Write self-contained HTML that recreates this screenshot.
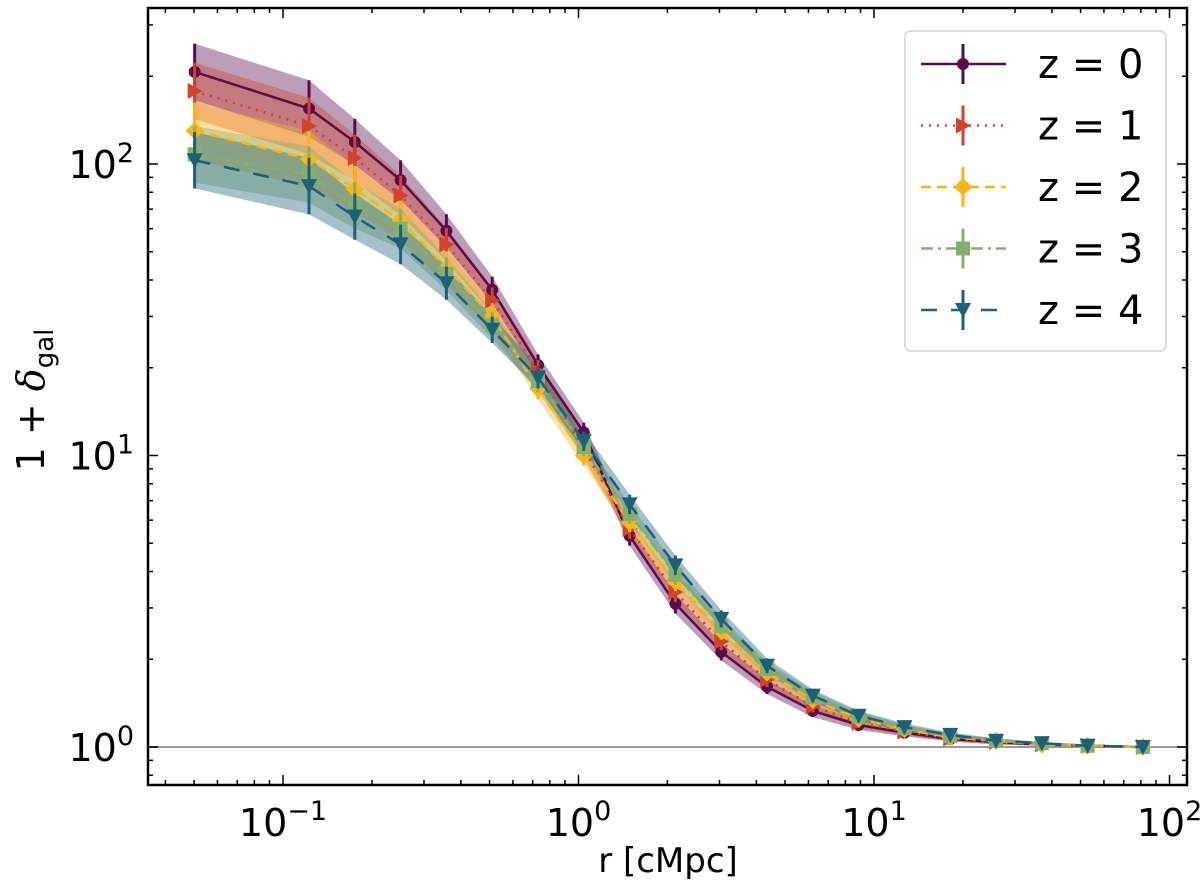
<!DOCTYPE html>
<html><head><meta charset="utf-8"><style>
body{margin:0;background:#fff;}
svg{display:block;font-family:"DejaVu Sans","Liberation Sans",sans-serif;}
</style></head><body>
<svg id="chart" width="1200" height="889" viewBox="0 0 1200 889" xmlns="http://www.w3.org/2000/svg">
<g id="bands"></g>
<line x1="148" x2="1187" y1="747" y2="747" stroke="#999" stroke-width="2"/>
<g id="series"></g>
<g id="axes"></g>
<text x="668" y="872" font-size="34" text-anchor="middle">r [cMpc]</text>
<text transform="translate(44,400) rotate(-90)" font-size="38" text-anchor="middle">1 + <tspan font-style="italic" font-family="DejaVu Serif,serif">δ</tspan><tspan font-size="26" dy="9">gal</tspan></text>
<g id="legend"></g>
</svg>
<script>
const logR = [-1.299,-0.912,-0.757,-0.602,-0.447,-0.292,-0.137,0.018,0.173,0.328,0.483,0.638,0.793,0.948,1.103,1.258,1.413,1.568,1.723,1.910];
const z0 = [207,155,119,88,59,37,20.4,12,5.3,3.1,2.12,1.61,1.33,1.19,1.12,1.065,1.04,1.02,1.01,1.0];
const z1 = [178,135,105,78,53,34,19.5,10.5,5.6,3.4,2.3,1.7,1.38,1.21,1.13,1.07,1.04,1.02,1.01,1.0];
const z2 = [130,104,82,64,44,30,17,10,5.9,3.7,2.5,1.8,1.45,1.25,1.15,1.08,1.05,1.02,1.01,1.0];
const z3 = [108,92,72,60,42,28,18,10.7,6.3,3.9,2.6,1.85,1.48,1.27,1.16,1.09,1.05,1.03,1.01,1.0];
const z4 = [103,84,66,53,39,27,18.5,11.2,6.8,4.2,2.75,1.9,1.5,1.28,1.17,1.1,1.05,1.03,1.01,1.0];
const errFactor = [1.25,1.25,1.2,1.17,1.14,1.11,1.09,1.08,1.08,1.08,1.07,1.06,1.05,1.04,1.03,1.02,1.02,1.01,1.01,1.01];
const labels = ["z = 0","z = 1","z = 2","z = 3","z = 4"];
const xTicks = [-1,0,1,2];
const yTicks = [0,1,2];

const NS="http://www.w3.org/2000/svg";
const L=148,R=1187,T=8,B=785;
function sx(lr){return 283+(lr+1)*295.5;}
function sy(v){return 747-Math.log10(v)*291.5;}
function mk(tag,attrs,parent){const e=document.createElementNS(NS,tag);for(const k in attrs)e.setAttribute(k,attrs[k]);parent.appendChild(e);return e;}

const series=[
 {d:z0,c:"#5b0c4d",dash:"",m:"circle"},
 {d:z1,c:"#d2432b",dash:"2 6",m:"tri-right"},
 {d:z2,c:"#fbb416",dash:"10 6",m:"diamond"},
 {d:z3,c:"#84b06d",dash:"12 5 3 5",m:"square"},
 {d:z4,c:"#1d6179",dash:"16 14",m:"tri-down"}];

function marker(p,type,x,y,c,name){
 let e;
 if(type==="circle")e=mk("circle",{cx:x,cy:y,r:6,fill:c},p);
 else if(type==="tri-right")e=mk("polygon",{points:`${x-7},${y-8} ${x+8},${y} ${x-7},${y+8}`,fill:c},p);
 else if(type==="diamond")e=mk("polygon",{points:`${x},${y-9} ${x+9},${y} ${x},${y+9} ${x-9},${y}`,fill:c},p);
 else if(type==="square")e=mk("rect",{x:x-7,y:y-7,width:14,height:14,fill:c},p);
 else e=mk("polygon",{points:`${x-8},${y-7} ${x+8},${y-7} ${x},${y+8}`,fill:c},p);
 
 
 return e;
}

const bands=document.getElementById('bands'),sg=document.getElementById('series');
series.forEach((s,si)=>{
 let up=[],lo=[];
 s.d.forEach((v,i)=>{up.push(sx(logR[i])+","+sy(v*errFactor[i]));lo.unshift(sx(logR[i])+","+sy(v/errFactor[i]));});
 const b=mk("polygon",{points:up.concat(lo).join(" "),fill:s.c,"fill-opacity":0.4},bands);
 
 
});
series.forEach((s,si)=>{
 const g=mk("g",{},sg);
 
 
 s.d.forEach((v,i)=>{
  const eb=mk("line",{x1:sx(logR[i]),x2:sx(logR[i]),y1:sy(v*errFactor[i]),y2:sy(v/errFactor[i]),stroke:s.c,"stroke-width":3},g);
  
  
 });
 const ln=mk("polyline",{points:s.d.map((v,i)=>sx(logR[i])+","+sy(v)).join(" "),fill:"none",stroke:s.c,"stroke-width":2.5,"stroke-dasharray":s.dash},g);
 
 
 s.d.forEach((v,i)=>marker(g,s.m,sx(logR[i]),sy(v),s.c,'point'));
});

const ax=document.getElementById('axes');
const fr=mk("rect",{x:L,y:T,width:R-L,height:B-T,fill:"none",stroke:"#000","stroke-width":2.5},ax);


for(let d=-2;d<=2;d++)for(let k=1;k<10;k++){
 const x=sx(d+Math.log10(k));if(x<L||x>R)continue;const len=k===1?10:5;
 mk("line",{x1:x,x2:x,y1:B,y2:B-len,stroke:"#000","stroke-width":1.5},ax);
 mk("line",{x1:x,x2:x,y1:T,y2:T+len,stroke:"#000","stroke-width":1.5},ax);
}
for(let d=-1;d<=2;d++)for(let k=1;k<10;k++){
 const y=sy(Math.pow(10,d)*k);if(y<T||y>B)continue;const len=k===1?10:5;
 mk("line",{x1:L,x2:L+len,y1:y,y2:y,stroke:"#000","stroke-width":1.5},ax);
 mk("line",{x1:R,x2:R-len,y1:y,y2:y,stroke:"#000","stroke-width":1.5},ax);
}
xTicks.forEach(t=>{
 const tx=mk("text",{x:sx(t),y:836,"font-size":38,"text-anchor":"middle"},ax);
 
 
 tx.innerHTML='10<tspan font-size="27" dy="-16">'+(t<0?'−':'')+Math.abs(t)+'</tspan>';
});
yTicks.forEach(t=>{
 const tx=mk("text",{x:134,y:sy(Math.pow(10,t))+14,"font-size":38,"text-anchor":"end"},ax);
 
 
 tx.innerHTML='10<tspan font-size="27" dy="-16">'+t+'</tspan>';
});

const lg=document.getElementById('legend');
const lb=mk("rect",{x:905,y:31,width:261,height:320,rx:6,fill:"#fff","fill-opacity":0.85,stroke:"#ddd","stroke-width":2},lg);


series.forEach((s,si)=>{
 const y=64+si*61.5;
 const g=mk("g",{},lg);
 
 
 mk("line",{x1:921,x2:1006,y1:y,y2:y,stroke:s.c,"stroke-width":2.5,"stroke-dasharray":s.dash},g);
 mk("line",{x1:963,x2:963,y1:y-20,y2:y+20,stroke:s.c,"stroke-width":3},g);
 marker(g,s.m,963,y,s.c,'legend-marker');
 const t=mk("text",{x:1038,y:y+14,"font-size":40},g);
 t.textContent=labels[si];
});
</script>
</body></html>
